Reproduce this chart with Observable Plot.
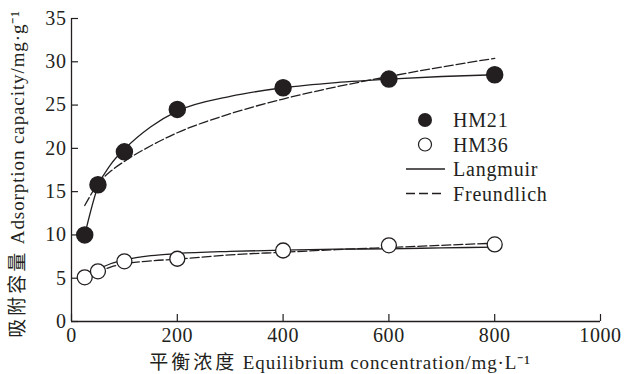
<!DOCTYPE html>
<html><head><meta charset="utf-8">
<script src="https://cdn.jsdelivr.net/npm/d3@7"></script>
<script src="https://cdn.jsdelivr.net/npm/@observablehq/plot@0.6"></script>
<style>
body{margin:0;background:#fff;}
#wrap{position:relative;width:625px;height:374px;}
#wrap > svg{position:absolute;left:0;top:0;}
</style></head><body><div id="wrap"></div>
<script>
// measured points
const concentrations = [25, 50, 100, 200, 400, 600, 800];
const hm21 = [10.0, 15.8, 19.6, 24.5, 27.0, 28.0, 28.5];
const hm36 = [5.1, 5.8, 6.95, 7.25, 8.2, 8.8, 8.9];
// fitted curves
const fitX = [25, 50, 75, 100, 150, 200, 300, 400, 500, 600, 700, 800];
const hm21Langmuir = [10.0, 15.6, 18.2, 19.9, 22.5, 24.3, 26.0, 27.0, 27.6, 28.0, 28.3, 28.5];
const hm21Freundlich = [13.4, 15.9, 17.4, 18.5, 20.3, 21.8, 24.0, 25.7, 27.1, 28.3, 29.4, 30.4];
const hm36Langmuir = [5.0, 6.0, 6.7, 7.1, 7.6, 7.85, 8.1, 8.25, 8.35, 8.4, 8.5, 8.6];
const hm36Freundlich = [5.1, 5.7, 6.3, 6.65, 7.0, 7.2, 7.7, 8.0, 8.3, 8.55, 8.8, 9.05];
const xTicks = [0, 200, 400, 600, 800, 1000];
const yTicks = [0, 5, 10, 15, 20, 25, 30, 35];
const seriesNames = ["HM21", "HM36", "Langmuir", "Freundlich"];
const xTitleCJK = "平衡浓度", xTitleLatin = " Equilibrium concentration/mg·L⁻¹";
const yTitleCJK = "吸附容量", yTitleLatin = " Adsorption capacity/mg·g⁻¹";

const pts = (xs, ys) => xs.map((x, i) => ({x, y: ys[i]}));
const ink = "#231f20";
const font = "'Liberation Serif', 'Noto Sans CJK SC', serif";

const chart = Plot.plot({
  width: 625, height: 374,
  marginLeft: 71, marginRight: 25, marginTop: 18, marginBottom: 53,
  style: {fontFamily: font, fontSize: "20px", color: ink, background: "white", letterSpacing: "0.6px"},
  x: {domain: [0, 1000], ticks: xTicks},
  y: {domain: [0, 35], ticks: yTicks},
  marks: [
    Plot.ruleX([0], {stroke: ink, strokeWidth: 1.3}),
    Plot.ruleY([0], {stroke: ink, strokeWidth: 1.3}),
    Plot.axisX({ticks: xTicks, tickSize: 7, dy: -7, tickFormat: () => "", label: null, stroke: ink, strokeWidth: 1.2}),
    Plot.axisY({ticks: yTicks, tickSize: 7, dx: 7, tickFormat: () => "", label: null, stroke: ink, strokeWidth: 1.2}),
    Plot.axisX({ticks: xTicks, tickSize: 0, tickPadding: 6, tickFormat: d3.format("d"), label: null, fill: ink, fontSize: 20}),
    Plot.axisY({ticks: yTicks, tickSize: 0, tickPadding: 5, tickFormat: d3.format("d"), label: null, fill: ink, fontSize: 20}),
    Plot.line(pts(fitX, hm21Langmuir), {x: "x", y: "y", curve: "monotone-x", stroke: ink, strokeWidth: 1.3}),
    Plot.line(pts(fitX, hm21Freundlich), {x: "x", y: "y", curve: "monotone-x", stroke: ink, strokeWidth: 1.3, strokeDasharray: "9,3"}),
    Plot.line(pts(fitX, hm36Langmuir), {x: "x", y: "y", curve: "monotone-x", stroke: ink, strokeWidth: 1.3}),
    Plot.line(pts(fitX, hm36Freundlich), {x: "x", y: "y", curve: "monotone-x", stroke: ink, strokeWidth: 1.3, strokeDasharray: "9,3"}),
    Plot.dot(pts(concentrations, hm21), {x: "x", y: "y", r: 8, fill: ink, stroke: ink}),
    Plot.dot(pts(concentrations, hm36), {x: "x", y: "y", r: 7.5, fill: "white", stroke: ink, strokeWidth: 1.3})
  ]
});
const wrap = document.getElementById("wrap");
wrap.appendChild(chart);

// overlay: legend and axis titles
const ov = d3.select(wrap).append("svg").attr("width", 625).attr("height", 374)
  .style("font-family", font).style("pointer-events", "none");
const lg = ov.append("g").attr("transform", "translate(406,120)");
const rowH = 24.5;
seriesNames.forEach((name, i) => {
  const g = lg.append("g").attr("transform", `translate(0,${i * rowH})`);
  if (i === 0) g.append("circle").attr("cx", 19).attr("r", 7).attr("fill", ink);
  if (i === 1) g.append("circle").attr("cx", 19).attr("r", 6.5).attr("fill", "white").attr("stroke", ink).attr("stroke-width", 1.2);
  if (i >= 2) g.append("line").attr("x1", 0).attr("x2", 39).attr("stroke", ink).attr("stroke-width", 1.3)
    .attr("stroke-dasharray", i === 3 ? "9,4" : null);
  g.append("text").attr("x", 47).attr("dy", "0.35em").attr("font-size", 20).attr("letter-spacing", "0.8px")
    .attr("fill", ink).text(name);
});
function title(sel, cjk, latin) {
  sel.attr("text-anchor", "middle").attr("font-size", 19).attr("fill", ink);
  sel.append("tspan").attr("letter-spacing", "3px").text(cjk);
  sel.append("tspan").attr("letter-spacing", "0.9px").text(latin);
}
title(ov.append("text").attr("x", 340).attr("y", 369), xTitleCJK, xTitleLatin);
title(ov.append("text").attr("transform", "translate(24,174) rotate(-90)"), yTitleCJK, yTitleLatin);
</script></body></html>
